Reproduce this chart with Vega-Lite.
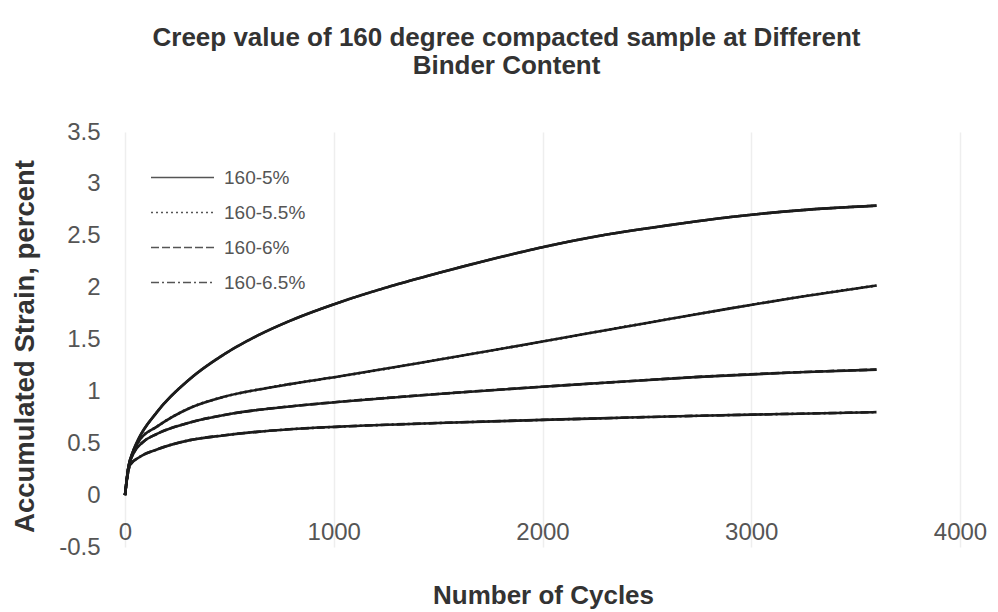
{
  "$schema": "https://vega.github.io/schema/vega-lite/v6.json",
  "width": 835,
  "height": 415,
  "autosize": {"type": "none"},
  "padding": {"left": 125, "top": 132, "right": 38, "bottom": 65},
  "background": "white",
  "config": {"view": {"stroke": null}, "font": "Liberation Sans"},
  "title": {
    "text": ["Creep value of 160 degree compacted sample at Different", "Binder Content"],
    "font": "Liberation Sans",
    "fontSize": 26,
    "fontWeight": "bold",
    "color": "#333333",
    "anchor": "middle",
    "frame": "group",
    "dx": -36,
    "offset": 41,
    "lineHeight": 28
  },
  "data": {
    "values": [
      {"series": "160-5%", "cycles": 0, "strain": 0},
      {"series": "160-5%", "cycles": 15, "strain": 0.25},
      {"series": "160-5%", "cycles": 40, "strain": 0.43},
      {"series": "160-5%", "cycles": 62, "strain": 0.53},
      {"series": "160-5%", "cycles": 153, "strain": 0.8},
      {"series": "160-5%", "cycles": 311, "strain": 1.12},
      {"series": "160-5%", "cycles": 469, "strain": 1.35},
      {"series": "160-5%", "cycles": 632, "strain": 1.535},
      {"series": "160-5%", "cycles": 790, "strain": 1.68},
      {"series": "160-5%", "cycles": 1030, "strain": 1.86},
      {"series": "160-5%", "cycles": 1250, "strain": 2.0},
      {"series": "160-5%", "cycles": 1500, "strain": 2.14},
      {"series": "160-5%", "cycles": 1750, "strain": 2.27},
      {"series": "160-5%", "cycles": 2000, "strain": 2.39},
      {"series": "160-5%", "cycles": 2275, "strain": 2.5},
      {"series": "160-5%", "cycles": 2600, "strain": 2.6},
      {"series": "160-5%", "cycles": 2900, "strain": 2.68},
      {"series": "160-5%", "cycles": 3230, "strain": 2.745},
      {"series": "160-5%", "cycles": 3600, "strain": 2.79},
      {"series": "160-5.5%", "cycles": 0, "strain": 0},
      {"series": "160-5.5%", "cycles": 15, "strain": 0.25},
      {"series": "160-5.5%", "cycles": 40, "strain": 0.42},
      {"series": "160-5.5%", "cycles": 70, "strain": 0.53},
      {"series": "160-5.5%", "cycles": 153, "strain": 0.66},
      {"series": "160-5.5%", "cycles": 311, "strain": 0.84},
      {"series": "160-5.5%", "cycles": 469, "strain": 0.945},
      {"series": "160-5.5%", "cycles": 632, "strain": 1.015},
      {"series": "160-5.5%", "cycles": 790, "strain": 1.07},
      {"series": "160-5.5%", "cycles": 1030, "strain": 1.145},
      {"series": "160-5.5%", "cycles": 1500, "strain": 1.305},
      {"series": "160-5.5%", "cycles": 2000, "strain": 1.48},
      {"series": "160-5.5%", "cycles": 2275, "strain": 1.58},
      {"series": "160-5.5%", "cycles": 2600, "strain": 1.695},
      {"series": "160-5.5%", "cycles": 2900, "strain": 1.8},
      {"series": "160-5.5%", "cycles": 3230, "strain": 1.91},
      {"series": "160-5.5%", "cycles": 3600, "strain": 2.02},
      {"series": "160-6%", "cycles": 0, "strain": 0},
      {"series": "160-6%", "cycles": 15, "strain": 0.25},
      {"series": "160-6%", "cycles": 40, "strain": 0.4},
      {"series": "160-6%", "cycles": 85, "strain": 0.51},
      {"series": "160-6%", "cycles": 153, "strain": 0.59},
      {"series": "160-6%", "cycles": 311, "strain": 0.7},
      {"series": "160-6%", "cycles": 469, "strain": 0.77},
      {"series": "160-6%", "cycles": 632, "strain": 0.82},
      {"series": "160-6%", "cycles": 790, "strain": 0.855},
      {"series": "160-6%", "cycles": 1030, "strain": 0.9},
      {"series": "160-6%", "cycles": 1500, "strain": 0.975},
      {"series": "160-6%", "cycles": 2000, "strain": 1.045},
      {"series": "160-6%", "cycles": 2275, "strain": 1.08},
      {"series": "160-6%", "cycles": 2750, "strain": 1.14},
      {"series": "160-6%", "cycles": 3230, "strain": 1.185},
      {"series": "160-6%", "cycles": 3600, "strain": 1.21},
      {"series": "160-6.5%", "cycles": 0, "strain": 0},
      {"series": "160-6.5%", "cycles": 15, "strain": 0.22},
      {"series": "160-6.5%", "cycles": 24, "strain": 0.29},
      {"series": "160-6.5%", "cycles": 72, "strain": 0.37},
      {"series": "160-6.5%", "cycles": 153, "strain": 0.44},
      {"series": "160-6.5%", "cycles": 311, "strain": 0.53},
      {"series": "160-6.5%", "cycles": 469, "strain": 0.575},
      {"series": "160-6.5%", "cycles": 632, "strain": 0.61},
      {"series": "160-6.5%", "cycles": 790, "strain": 0.635},
      {"series": "160-6.5%", "cycles": 1030, "strain": 0.66},
      {"series": "160-6.5%", "cycles": 1500, "strain": 0.695},
      {"series": "160-6.5%", "cycles": 2000, "strain": 0.725},
      {"series": "160-6.5%", "cycles": 2275, "strain": 0.74},
      {"series": "160-6.5%", "cycles": 2750, "strain": 0.765},
      {"series": "160-6.5%", "cycles": 3230, "strain": 0.785},
      {"series": "160-6.5%", "cycles": 3600, "strain": 0.8}
    ]
  },
  "encoding": {
    "x": {
      "field": "cycles",
      "type": "quantitative",
      "scale": {"domain": [0, 4000], "nice": false},
      "axis": {
        "values": [0, 1000, 2000, 3000, 4000],
        "labelExpr": "datum.value + ''",
        "title": "Number of Cycles",
        "titleFont": "Liberation Sans",
        "titleFontSize": 26,
        "titleFontWeight": "bold",
        "titleColor": "#333333",
        "titleX": 418,
        "titleY": 48,
        "titleAlign": "center",
        "titleBaseline": "middle",
        "labelFont": "Liberation Sans",
        "labelFontSize": 24,
        "labelColor": "#555555",
        "labelPadding": -15,
        "labelBaseline": "middle",
        "labelFlush": false,
        "labelOverlap": false,
        "ticks": false,
        "domain": false,
        "grid": true,
        "gridColor": "#eeeeee",
        "gridWidth": 1.5
      }
    },
    "y": {
      "field": "strain",
      "type": "quantitative",
      "scale": {"domain": [-0.5, 3.5], "nice": false, "zero": false},
      "axis": {
        "values": [-0.5, 0, 0.5, 1, 1.5, 2, 2.5, 3, 3.5],
        "labelExpr": "datum.value + ''",
        "title": "Accumulated Strain, percent",
        "titleFont": "Liberation Sans",
        "titleFontSize": 27.5,
        "titleFontWeight": "bold",
        "titleColor": "#333333",
        "titleAngle": -90,
        "titleX": -100,
        "titleY": 214,
        "titleAlign": "center",
        "titleBaseline": "middle",
        "labelFont": "Liberation Sans",
        "labelFontSize": 24,
        "labelColor": "#555555",
        "labelPadding": 25,
        "labelOverlap": false,
        "ticks": false,
        "domain": false,
        "grid": false
      }
    }
  },
  "layer": [
    {
      "mark": {"type": "line", "interpolate": "monotone", "color": "#1c1c1c", "strokeWidth": 2.6},
      "encoding": {"detail": {"field": "series", "type": "nominal"}}
    },
    {
      "mark": {"type": "line", "interpolate": "monotone", "color": "#1c1c1c", "strokeWidth": 2.6},
      "encoding": {
        "strokeDash": {
          "field": "series",
          "type": "nominal",
          "scale": {
            "domain": ["160-5%", "160-5.5%", "160-6%", "160-6.5%"],
            "range": [[1, 0], [2, 3], [8, 3], [8, 3, 2, 3]]
          },
          "legend": {
            "orient": "none",
            "legendX": 46,
            "legendY": 34,
            "title": null,
            "padding": 0,
            "symbolType": "M-3,0H3",
            "symbolSize": 441,
            "symbolStrokeColor": "#555555",
            "symbolStrokeWidth": 1.5,
            "labelFont": "Liberation Sans",
            "labelFontSize": 19,
            "labelColor": "#555555",
            "labelOffset": 30,
            "rowPadding": 13
          }
        }
      }
    }
  ]
}
